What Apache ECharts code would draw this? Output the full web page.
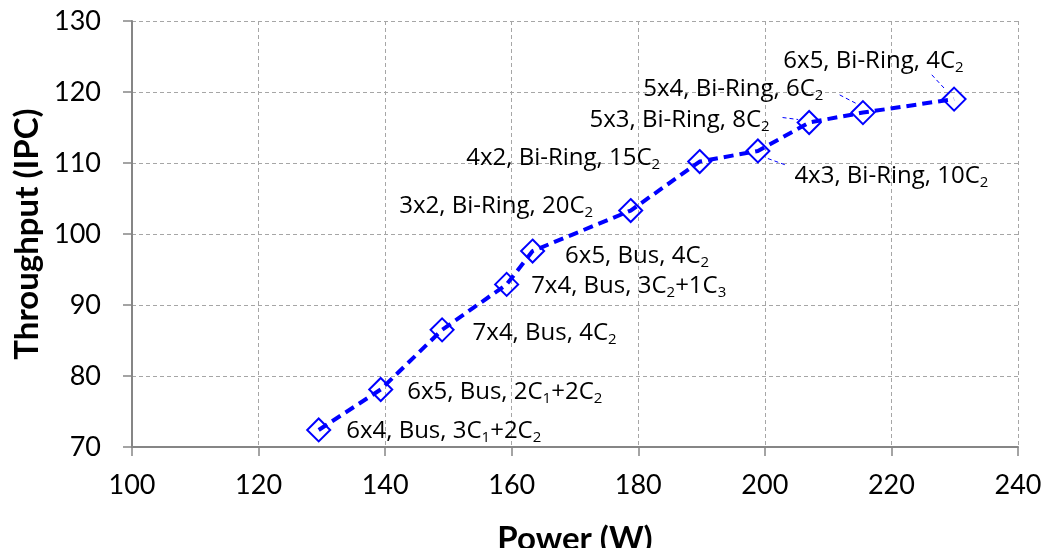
<!DOCTYPE html>
<html>
<head>
<meta charset="utf-8">
<script src="https://cdn.jsdelivr.net/npm/echarts@6/dist/echarts.min.js"></script>
<style>
  html, body { margin: 0; padding: 0; background: #ffffff; }
  #chart { width: 1044px; height: 548px; }
</style>
</head>
<body>
<div id="chart"></div>
<script>
// Power (W) and throughput (IPC) for each chip configuration
const power = [129.5, 139.3, 149.0, 159.2, 163.3, 178.8, 189.7, 198.9, 207.0, 215.5, 229.9];
const ipc = [72.4, 78.1, 86.5, 92.9, 97.6, 103.3, 110.2, 111.7, 115.7, 117.1, 119.0];
// "_d" marks a subscript digit
const configNames = [
  '6x4, Bus, 3C_1+2C_2',
  '6x5, Bus, 2C_1+2C_2',
  '7x4, Bus, 4C_2',
  '7x4, Bus, 3C_2+1C_3',
  '6x5, Bus, 4C_2',
  '3x2, Bi-Ring, 20C_2',
  '4x2, Bi-Ring, 15C_2',
  '4x3, Bi-Ring, 10C_2',
  '5x3, Bi-Ring, 8C_2',
  '5x4, Bi-Ring, 6C_2',
  '6x5, Bi-Ring, 4C_2'
];
const xAxisRange = { min: 100, max: 240, interval: 20 };
const yAxisRange = { min: 70, max: 130, interval: 10 };

// Label placement per point: side, x shift, y shift
const labelPlacement = [
  ['right', 15, 1],
  ['right', 14, 3],
  ['right', 18, 3],
  ['right', 12, 2],
  ['right', 20, 5],
  ['left', -25, -4],
  ['left', -27, -3],
  ['right', 24, 25],
  ['left', -27, -2],
  ['left', -27, -23],
  ['left', 22, -38]
];
// Leader lines for the crowded labels: point index, start and end offsets from the marker
const leaders = [
  [7, 10, 7.6, 28.4, 14.3],
  [8, -26.6, -5, -11, -3],
  [9, -23.3, -17.7, -7.3, -9.4],
  [10, -22.3, -24.3, -10, -11]
];

const TICK_FONT = 'Lato';
const LABEL_FONT = 'Open Sans';
const BLUE = '#0000ff';

function toRich(name) {
  return name.replace(/_(\d)/g, '{s|$1}').replace(/(^|\})([^{]+)(?=\{|$)/g, function (m, pre, txt) {
    return pre + '{n|' + txt + '}';
  });
}

const seriesData = power.map(function (p, i) {
  const pl = labelPlacement[i];
  return {
    value: [p, ipc[i]],
    label: {
      show: true,
      position: pl[0],
      distance: 0,
      offset: [pl[1], pl[2]],
      formatter: toRich(configNames[i])
    }
  };
});

const chart = echarts.init(document.getElementById('chart'), null, { renderer: 'canvas' });

const axisLine = { show: true, lineStyle: { color: '#868686', width: 2 } };
const axisTick = { show: true, length: 9, lineStyle: { color: '#868686', width: 1.5 } };
const splitLine = { show: true, lineStyle: { color: '#a6a6a6', width: 1, type: [4, 3] } };

chart.setOption({
  backgroundColor: '#ffffff',
  animation: false,
  grid: { left: 132, right: 26, top: 21, bottom: 101, containLabel: false, outerBoundsMode: 'none' },
  xAxis: {
    type: 'value',
    min: xAxisRange.min, max: xAxisRange.max, interval: xAxisRange.interval,
    name: 'Power (W)',
    nameLocation: 'middle',
    nameGap: 76,
    nameMoveOverlap: false,
    nameTextStyle: { fontFamily: TICK_FONT, fontWeight: 'bold', fontSize: 33, color: '#000' },
    axisLine: axisLine,
    axisTick: axisTick,
    splitLine: splitLine,
    axisLabel: { fontFamily: TICK_FONT, fontSize: 27, color: '#000', margin: 25 }
  },
  yAxis: {
    type: 'value',
    min: yAxisRange.min, max: yAxisRange.max, interval: yAxisRange.interval,
    name: 'Throughput (IPC)',
    nameLocation: 'middle',
    nameGap: 88,
    nameRotate: 90,
    nameMoveOverlap: false,
    nameTextStyle: { fontFamily: TICK_FONT, fontWeight: 'bold', fontSize: 33, color: '#000' },
    axisLine: axisLine,
    axisTick: axisTick,
    splitLine: splitLine,
    axisLabel: { fontFamily: TICK_FONT, fontSize: 27, color: '#000', margin: 31 }
  },
  series: [{
    type: 'line',
    data: seriesData,
    symbol: 'diamond',
    symbolSize: 23,
    showAllSymbol: true,
    lineStyle: { color: BLUE, width: 4, type: [10, 6] },
    itemStyle: { color: 'rgba(0,0,0,0)', borderColor: BLUE, borderWidth: 2 },
    label: {
      show: true,
      color: '#000',
      fontFamily: LABEL_FONT,
      rich: {
        n: { fontFamily: LABEL_FONT, fontSize: 24, lineHeight: 28, color: '#000', verticalAlign: 'middle' },
        s: { fontFamily: LABEL_FONT, fontSize: 15, lineHeight: 16, color: '#000', verticalAlign: 'bottom' }
      }
    },
    emphasis: { disabled: true },
    z: 3
  }]
});

// Leader lines anchored on each marker's pixel position
chart.setOption({
  graphic: leaders.map(function (ld) {
    const pt = chart.convertToPixel({ seriesIndex: 0 }, [power[ld[0]], ipc[ld[0]]]);
    return {
      type: 'line',
      silent: true,
      z: 2,
      shape: { x1: pt[0] + ld[1], y1: pt[1] + ld[2], x2: pt[0] + ld[3], y2: pt[1] + ld[4] },
      style: { stroke: BLUE, lineWidth: 1, lineDash: [4, 3] }
    };
  })
});
</script>
</body>
</html>
